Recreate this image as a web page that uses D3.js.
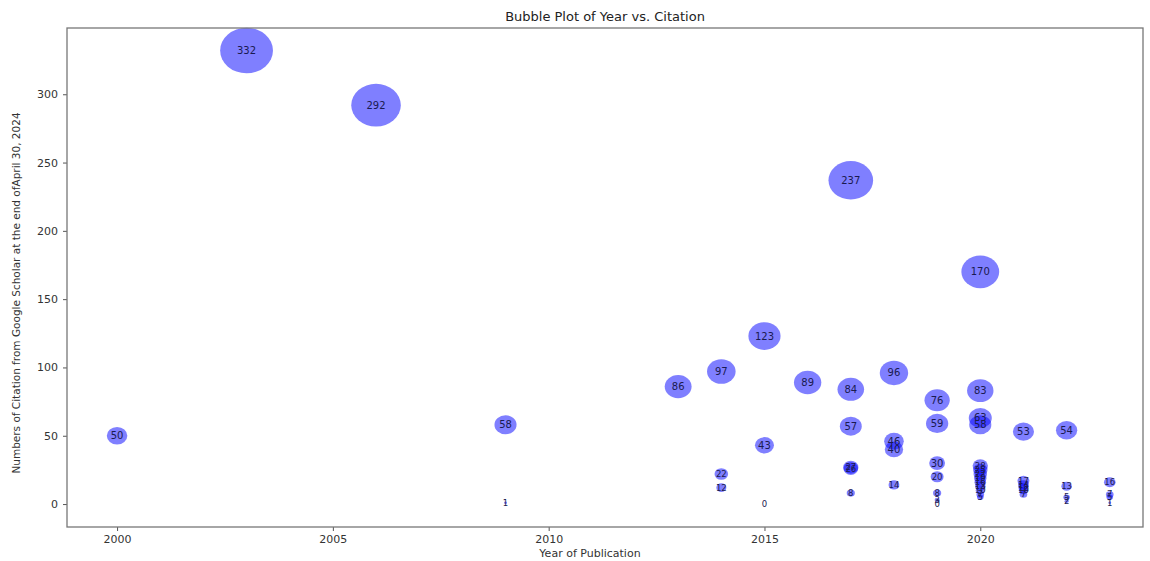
<!DOCTYPE html>
<html><head><meta charset="utf-8">
<script src="https://cdn.jsdelivr.net/npm/d3@7"></script>
<style>body{margin:0;background:#fff;} text{font-family:"DejaVu Sans",sans-serif;}</style>
</head><body><svg id="c" width="1150" height="561"></svg>
<script>
const years = [2000,2003,2006,2009,2009,2013,2014,2014,2014,2015,2015,2015,2016,
 2017,2017,2017,2017,2017,2017,2018,2018,2018,2018,
 2019,2019,2019,2019,2019,2019,2019,
 2020,2020,2020,2020,2020,2020,2020,2020,2020,2020,2020,2020,2020,
 2021,2021,2021,2021,2021,2021,
 2022,2022,2022,2022,
 2023,2023,2023,2023];
const citations = [50,332,292,58,1,86,97,22,12,123,43,0,89,
 237,84,57,27,26,8,96,46,40,14,
 76,59,30,20,8,3,0,
 170,83,63,58,28,25,22,19,16,13,10,7,5,
 53,17,14,12,10,7,
 54,13,5,2,
 16,7,5,1];
const xTicks = [2000,2005,2010,2015,2020];
const yTicks = [0,50,100,150,200,250,300];

const svg = d3.select("#c");
const L=67, R=1143, T=28, B=527;
const x = d3.scaleLinear().domain([1998.84,2023.77]).range([L,R]);
const y = d3.scaleLinear().domain([-16.8,348.5]).range([B,T]);

const g = svg.append("g");
const data = years.map((yr,i)=>({yr, c:citations[i]}));
g.selectAll("ellipse").data(data).join("ellipse")
 .attr("cx",d=>x(d.yr)).attr("cy",d=>y(d.c))
 .attr("rx",d=>1.45*Math.sqrt(d.c)).attr("ry",d=>1.25*Math.sqrt(d.c))
 .attr("fill","rgba(0,0,255,0.5)");
g.selectAll("text.lab").data(data).join("text").attr("class","lab")
 .attr("x",d=>x(d.yr)).attr("y",d=>y(d.c)+(d.c<30?3:3.5))
 .attr("text-anchor","middle").attr("font-size",d=>d.c<30?8.5:10).attr("fill","#1a1a50")
 .text(d=>d.c);

const xa = svg.append("g").attr("transform",`translate(0,${B})`)
 .call(d3.axisBottom(x).tickValues(xTicks).tickFormat(d3.format("d")).tickSize(4).tickPadding(4));
const ya = svg.append("g").attr("transform",`translate(${L},0)`)
 .call(d3.axisLeft(y).tickValues(yTicks).tickSize(4).tickPadding(5));
[xa,ya].forEach(a=>{a.select(".domain").remove();
 a.selectAll("text").attr("font-size",11).attr("fill","#333").style("font-family","DejaVu Sans");
 a.selectAll("line").attr("stroke","#555");});
svg.append("rect").attr("x",L).attr("y",T).attr("width",R-L).attr("height",B-T)
 .attr("fill","none").attr("stroke","#777").attr("stroke-width",1.3);

svg.append("text").attr("x",(L+R)/2).attr("y",21).attr("text-anchor","middle")
 .attr("font-size",13).attr("fill","#222").text("Bubble Plot of Year vs. Citation");
svg.append("text").attr("x",(L+R)/2-15).attr("y",557).attr("text-anchor","middle")
 .attr("font-size",11).attr("fill","#333").text("Year of Publication");
svg.append("text").attr("transform",`translate(20,293) rotate(-90)`).attr("text-anchor","middle")
 .attr("font-size",10.5).attr("fill","#333")
 .text("Numbers of Citation from Google Scholar at the end ofApril 30, 2024");
</script></body></html>
